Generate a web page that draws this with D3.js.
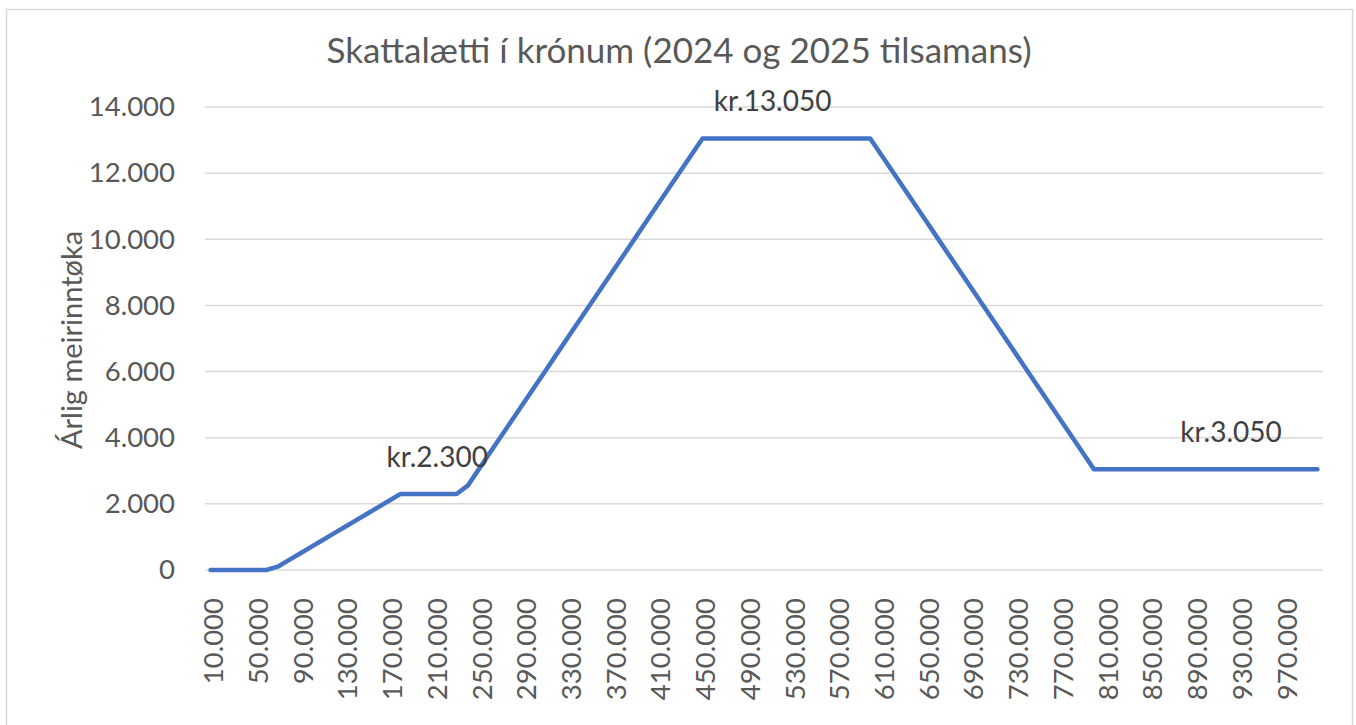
<!DOCTYPE html>
<html>
<head>
<meta charset="utf-8">
<script src="https://cdn.jsdelivr.net/npm/d3@7"></script>
<style>
  body { margin: 0; background: #fff; }
  text { font-family: Lato, "Open Sans", sans-serif; }
</style>
</head>
<body>
<div id="graphic"></div>
<script>
var categories = [
  10000, 20000, 30000, 40000, 50000, 60000, 70000, 80000, 90000, 100000,
  110000, 120000, 130000, 140000, 150000, 160000, 170000, 180000, 190000, 200000,
  210000, 220000, 230000, 240000, 250000, 260000, 270000, 280000, 290000, 300000,
  310000, 320000, 330000, 340000, 350000, 360000, 370000, 380000, 390000, 400000,
  410000, 420000, 430000, 440000, 450000, 460000, 470000, 480000, 490000, 500000,
  510000, 520000, 530000, 540000, 550000, 560000, 570000, 580000, 590000, 600000,
  610000, 620000, 630000, 640000, 650000, 660000, 670000, 680000, 690000, 700000,
  710000, 720000, 730000, 740000, 750000, 760000, 770000, 780000, 790000, 800000,
  810000, 820000, 830000, 840000, 850000, 860000, 870000, 880000, 890000, 900000,
  910000, 920000, 930000, 940000, 950000, 960000, 970000, 980000, 990000, 1000000
];
var values = [
  0, 0, 0, 0, 0, 0, 100, 300, 500, 700,
  900, 1100, 1300, 1500, 1700, 1900, 2100, 2300, 2300, 2300,
  2300, 2300, 2300, 2550, 3050, 3550, 4050, 4550, 5050, 5550,
  6050, 6550, 7050, 7550, 8050, 8550, 9050, 9550, 10050, 10550,
  11050, 11550, 12050, 12550, 13050, 13050, 13050, 13050, 13050, 13050,
  13050, 13050, 13050, 13050, 13050, 13050, 13050, 13050, 13050, 13050,
  12550, 12050, 11550, 11050, 10550, 10050, 9550, 9050, 8550, 8050,
  7550, 7050, 6550, 6050, 5550, 5050, 4550, 4050, 3550, 3050,
  3050, 3050, 3050, 3050, 3050, 3050, 3050, 3050, 3050, 3050,
  3050, 3050, 3050, 3050, 3050, 3050, 3050, 3050, 3050, 3050
];
var yTicks = [0, 2000, 4000, 6000, 8000, 10000, 12000, 14000];
var labelCategories = [210000, 510000, 920000];
var labelTexts = ["kr.2.300", "kr.13.050", "kr.3.050"];

var title = "Skattalætti í krónum (2024 og 2025 tilsamans)";
var yTitle = "Árlig meirinntøka";

var width = 1356;
var height = 725;
var plotLeft = 205;
var plotRight = 1323;
var plotTop = 107;
var plotBottom = 570;
var gray = "#595959";
var gridColor = "#d9d9d9";
var lineColor = "#4472c4";
var tickSize = 27.5;

var fmt = d3.formatLocale({ decimal: ",", thousands: ".", grouping: [3], currency: ["", ""] }).format(",d");

var svg = d3.select("#graphic")
  .append("svg")
  .attr("width", width)
  .attr("height", height);

// chart frame
svg.append("rect")
  .attr("x", 6.5)
  .attr("y", 9.5)
  .attr("width", 1346)
  .attr("height", 730)
  .attr("fill", "#fff")
  .attr("stroke", gridColor)
  .attr("stroke-width", 1.5);

var xScale = d3.scaleBand()
  .domain(categories)
  .range([plotLeft, plotRight])
  .padding(0);

var yScale = d3.scaleLinear()
  .domain([0, 14000])
  .range([plotBottom, plotTop]);

var getX = function(d, i) { return xScale(categories[i]) + xScale.bandwidth() / 2; };
var getY = function(d) { return yScale(d); };

// gridlines
svg.append("g")
  .selectAll("line")
  .data(yTicks)
  .join("line")
  .attr("x1", plotLeft)
  .attr("x2", plotRight)
  .attr("y1", d => yScale(d))
  .attr("y2", d => yScale(d))
  .attr("stroke", gridColor)
  .attr("stroke-width", 1.5);

// y axis labels
var yAxis = svg.append("g")
  .attr("transform", "translate(" + (plotLeft - 30) + ",0)")
  .call(d3.axisLeft(yScale).tickValues(yTicks).tickSize(0).tickPadding(0).tickFormat(fmt));
yAxis.select(".domain").remove();
yAxis.selectAll("text")
  .attr("fill", gray)
  .attr("font-size", tickSize)
  .attr("text-anchor", "end");

// x axis labels, every fourth category
var xAxis = svg.append("g")
  .attr("transform", "translate(0," + plotBottom + ")")
  .call(d3.axisBottom(xScale)
    .tickValues(categories.filter((d, i) => i % 4 == 0))
    .tickSize(0)
    .tickFormat(fmt));
xAxis.select(".domain").remove();
xAxis.selectAll("text")
  .attr("fill", gray)
  .attr("font-size", tickSize)
  .attr("text-anchor", "end")
  .attr("transform", "rotate(-90)")
  .attr("x", -28)
  .attr("y", 0)
  .attr("dy", "0.46em");

// line
svg.append("path")
  .datum(values)
  .attr("fill", "none")
  .attr("stroke", lineColor)
  .attr("stroke-width", 4.5)
  .attr("stroke-linejoin", "round")
  .attr("stroke-linecap", "round")
  .attr("d", d3.line().x(getX).y(getY));

// data labels
svg.append("g")
  .selectAll("text")
  .data(labelCategories)
  .join("text")
  .attr("x", d => xScale(d) + xScale.bandwidth() / 2 + 3)
  .attr("y", d => yScale(values[categories.indexOf(d)]) - 27)
  .attr("text-anchor", "middle")
  .attr("fill", "#404040")
  .attr("font-size", 28)
  .text((d, i) => labelTexts[i]);

// title
svg.append("text")
  .attr("x", 679)
  .attr("y", 63)
  .attr("text-anchor", "middle")
  .attr("fill", gray)
  .attr("font-size", 35)
  .text(title);

// y axis title
svg.append("text")
  .attr("transform", "translate(82,340) rotate(-90)")
  .attr("text-anchor", "middle")
  .attr("fill", gray)
  .attr("font-size", 29)
  .text(yTitle);
</script>
</body>
</html>
